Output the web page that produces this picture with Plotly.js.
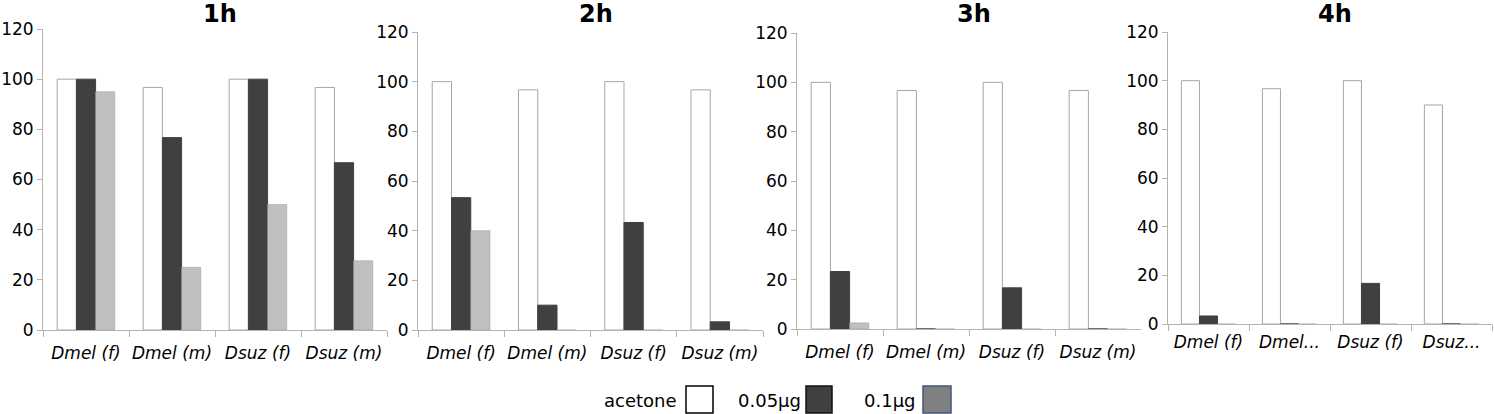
<!DOCTYPE html>
<html>
<head>
<meta charset="utf-8">
<script src="https://cdn.plot.ly/plotly-3.0.1.min.js"></script>
<style>html,body{margin:0;padding:0;background:#fff;}#chart{width:1494px;height:414px;}</style>
</head>
<body>
<div id="chart"></div>
<script>
// ---- data ----
const panels = ['1h', '2h', '3h', '4h'];
const categories = ['Dmel (f)', 'Dmel (m)', 'Dsuz (f)', 'Dsuz (m)'];
const tickLabels4h = ['Dmel (f)', 'Dmel...', 'Dsuz (f)', 'Dsuz...'];
const seriesNames = ['acetone', '0.05µg', '0.1µg'];
const yTicks = [0, 20, 40, 60, 80, 100, 120];

const acetone_1h = [100, 96.7, 100, 96.7];
const dose005_1h = [100, 76.7, 100, 66.7];
const dose01_1h  = [95, 25, 50, 27.6];

const acetone_2h = [100, 96.7, 100, 96.7];
const dose005_2h = [53.3, 10, 43.3, 3.3];
const dose01_2h  = [40, 0, 0, 0];

const acetone_3h = [100, 96.7, 100, 96.7];
const dose005_3h = [23.3, 0, 16.7, 0];
const dose01_3h  = [2.5, 0, 0, 0];

const acetone_4h = [100, 96.7, 100, 90];
const dose005_4h = [3.3, 0, 16.7, 0];
const dose01_4h  = [0, 0, 0, 0];

const panelData = [
  [acetone_1h, dose005_1h, dose01_1h],
  [acetone_2h, dose005_2h, dose01_2h],
  [acetone_3h, dose005_3h, dose01_3h],
  [acetone_4h, dose005_4h, dose01_4h]
];
const panelTickText = [categories, categories, categories, tickLabels4h];

// ---- styling ----
const W = 1494, H = 414;
const FONT = 'DejaVu Sans';
const AXIS_COL = '#b3b3b3';
const barStyles = [
  {color: '#ffffff', line: {color: '#a6a6a6', width: 1}},
  {color: '#404040', line: {color: '#404040', width: 1}},
  {color: '#c0c0c0', line: {color: '#9a9a9a', width: 0.5}}
];
// pixel boxes [left, right, top, bottom]
const boxes = [
  [43, 387, 29, 330],
  [418, 763, 32, 330],
  [797, 1141, 33, 329],
  [1168, 1492, 32, 324]
];
const labelStandoff = [8, 8, 8, 3];

const traces = [];
const layout = {
  width: W, height: H,
  margin: {l: 0, r: 0, t: 0, b: 0},
  paper_bgcolor: '#fff', plot_bgcolor: '#fff',
  barmode: 'group', bargap: 0.33, bargroupgap: 0,
  showlegend: false,
  font: {family: FONT, color: '#000'},
  annotations: [], shapes: []
};

panels.forEach((p, i) => {
  const sx = i === 0 ? '' : String(i + 1);
  const b = boxes[i];
  panelData[i].forEach((vals, s) => {
    traces.push({
      type: 'bar', x: categories, y: vals, name: seriesNames[s],
      xaxis: 'x' + sx, yaxis: 'y' + sx,
      marker: barStyles[s], hoverinfo: 'x+y+name'
    });
  });
  layout['xaxis' + sx] = {
    domain: [b[0] / W, b[1] / W], anchor: 'y' + sx,
    type: 'category', tickvals: categories, ticktext: panelTickText[i],
    tickson: 'boundaries', ticks: 'outside', ticklen: 6, tickcolor: AXIS_COL,
    tickangle: 0, automargin: false, ticklabelstandoff: labelStandoff[i],
    showline: true, linecolor: AXIS_COL, linewidth: 1,
    showgrid: false, zeroline: false,
    tickfont: {family: FONT, size: 17, style: 'italic', color: '#000'},
    fixedrange: true
  };
  layout['yaxis' + sx] = {
    domain: [1 - b[3] / H, 1 - b[2] / H], anchor: 'x' + sx,
    range: [0, 120], tickvals: yTicks,
    ticks: 'outside', ticklen: 5, tickcolor: AXIS_COL,
    showline: true, linecolor: AXIS_COL, linewidth: 1,
    showgrid: false, zeroline: false, automargin: false,
    tickfont: {family: FONT, size: 17, color: '#000'},
    fixedrange: true
  };
  layout.annotations.push({
    text: '<b>' + p + '</b>', xref: 'paper', yref: 'paper',
    x: ((b[0] + b[1]) / 2 + 5) / W, y: 1 - 14 / H,
    xanchor: 'center', yanchor: 'middle', showarrow: false,
    font: {family: FONT, size: 24, color: '#000'}
  });
});

// ---- custom legend (text then swatch) ----
const legendItems = [
  {textRight: 679, box: [686, 713], fill: '#ffffff', line: '#000000'},
  {textRight: 803, box: [806, 832], fill: '#404040', line: '#111111'},
  {textRight: 918, box: [923, 951], fill: '#808080', line: '#44557a'}
];
const legY = 400;
legendItems.forEach((it, k) => {
  layout.annotations.push({
    text: seriesNames[k], xref: 'paper', yref: 'paper',
    x: it.textRight / W, y: 1 - legY / H, xanchor: 'right', yanchor: 'middle',
    showarrow: false, font: {family: FONT, size: 18, color: '#000'}
  });
  layout.shapes.push({
    type: 'rect', xref: 'paper', yref: 'paper',
    x0: it.box[0] / W, x1: it.box[1] / W,
    y0: 1 - 413 / H, y1: 1 - 386 / H,
    fillcolor: it.fill, line: {color: it.line, width: 1.5}
  });
});

Plotly.newPlot('chart', traces, layout, {displayModeBar: false, staticPlot: true});
</script>
</body>
</html>
